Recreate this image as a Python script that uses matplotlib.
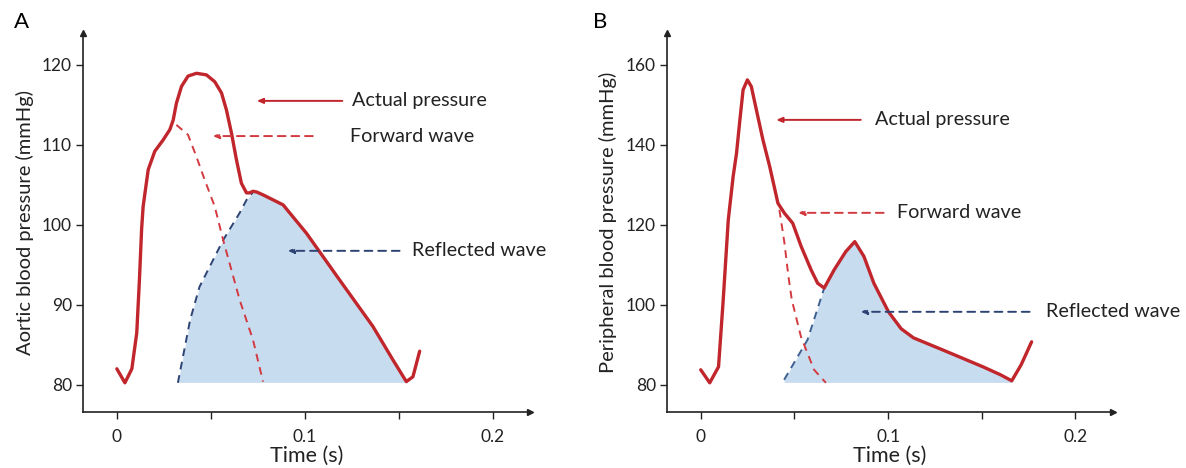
import numpy as np
import matplotlib
matplotlib.use("Agg")
import matplotlib.pyplot as plt

plt.rcParams['font.family'] = ['Lato', 'DejaVu Sans']

# ---- panel A : aortic pressure ----
a_t = [0, 0.0043, 0.008, 0.0106, 0.012, 0.0132, 0.014, 0.0167, 0.0202, 0.0246, 0.0282,
       0.030, 0.0317, 0.0344, 0.0379, 0.0424, 0.0477, 0.0521, 0.0557, 0.0583, 0.061,
       0.0637, 0.0663, 0.069, 0.0707, 0.0725, 0.0745, 0.0778, 0.0885, 0.1009, 0.1186,
       0.1363, 0.147, 0.1541, 0.1576, 0.1612]
a_p = [82, 80.25, 82, 86.5, 93, 99.5, 102.3, 106.9, 109.2, 110.6, 111.9,
       113.1, 115.2, 117.3, 118.6, 118.95, 118.75, 117.9, 116.5, 114.4, 111.5,
       108.1, 105.2, 104.0, 104.0, 104.2, 104.1, 103.75, 102.5, 98.96, 93.1,
       87.3, 83.1, 80.4, 81, 84.2]
a_fwd_t = [0.0317, 0.0379, 0.0424, 0.0468, 0.0521, 0.0566, 0.0654, 0.0725, 0.0778]
a_fwd_p = [112.5, 111.25, 108.5, 105.6, 102.3, 98.1, 90.6, 85.6, 80.4]
a_ref_t = [0.0325, 0.039, 0.044, 0.0566, 0.0654, 0.069, 0.0725]
a_ref_p = [80.25, 88.1, 92.25, 98.1, 101.5, 103.1, 104.1]

# ---- panel B : peripheral pressure ----
b_t = [0, 0.0048, 0.0095, 0.012, 0.0147, 0.0173, 0.0191, 0.0209, 0.0226, 0.0249, 0.027,
       0.0297, 0.0332, 0.0368, 0.0412, 0.0447, 0.0491, 0.0536, 0.0589, 0.0624, 0.0659,
       0.0712, 0.0774, 0.0822, 0.0871, 0.0924, 0.1002, 0.107, 0.1135, 0.129, 0.1506,
       0.160, 0.166, 0.171, 0.1766]
b_p = [83.75, 80.5, 84.5, 101.25, 121.25, 132.1, 137.9, 146.25, 153.75, 156.25, 154.6,
       148.75, 141.25, 134.6, 125.4, 122.9, 120.4, 114.6, 108.75, 105.4, 104.2,
       108.75, 113.3, 115.8, 112.1, 105.4, 98.25, 94, 91.75, 88.75, 84.5,
       82.5, 81, 85, 90.75]
b_fwd_t = [0.042, 0.0447, 0.0468, 0.0486, 0.0535, 0.0605, 0.0668]
b_fwd_p = [123.75, 115.4, 107.1, 101.25, 92, 83.75, 80.5]
b_ref_t = [0.0445, 0.057, 0.0659]
b_ref_p = [81.25, 91.25, 104.2]

RED = '#c0262c'
RED_D = '#d23a40'
FILL = '#c8dcf0'
INK = '#222222'


def panel(ax, t, p, ft, fp, rt, rp, base, t_end, ylim, yticks, ylabel, navy, notes):
    t = np.array(t); p = np.array(p)
    # blue area: reflected wave, then actual curve down to baseline
    m = (t > rt[-1]) & (t <= t_end)
    fx = np.concatenate([rt, t[m]])
    fy = np.concatenate([rp, p[m]])
    ax.fill_between(fx, base, fy, color=FILL, lw=0, zorder=1)
    ax.plot(rt, rp, ls=(0, (4, 3)), color=navy, lw=1.4, zorder=2)
    ax.plot(ft, fp, ls=(0, (4, 3)), color=RED_D, lw=1.4, zorder=2)
    ax.plot(t, p, color=RED, lw=2.4, zorder=3, solid_capstyle='round', solid_joinstyle='round')

    ax.set_xlim(-0.018, 0.22)
    ax.set_ylim(*ylim)
    ax.set_xticks([0, 0.05, 0.1, 0.15, 0.2])
    ax.set_xticklabels(['0', '', '0.1', '', '0.2'])
    ax.set_yticks(yticks)
    ax.tick_params(length=5, width=1, labelsize=12.5, color=INK, labelcolor=INK)
    ax.tick_params(axis='x', pad=7)
    ax.tick_params(axis='y', pad=3)
    ax.spines['top'].set_visible(False)
    ax.spines['right'].set_visible(False)
    for s in ['left', 'bottom']:
        ax.spines[s].set_linewidth(1.2)
        ax.spines[s].set_color(INK)
    ax.plot(1, 0, '>', color=INK, ms=4, transform=ax.transAxes, clip_on=False)
    ax.plot(0, 1, '^', color=INK, ms=4, transform=ax.transAxes, clip_on=False)
    ax.set_xlabel('Time (s)', fontsize=15.5, labelpad=1, color=INK)
    ax.set_ylabel(ylabel, fontsize=14.5, labelpad=6, color=INK)

    for (txt, y, head, tail, tx, col, ls) in notes:
        ax.annotate('', xy=(head, y), xytext=(tail, y),
                    arrowprops=dict(arrowstyle='-|>,head_length=0.35,head_width=0.15',
                                    color=col, lw=1.4, ls=ls, shrinkA=0, shrinkB=0))
        ax.text(tx, y, txt, fontsize=14.2, va='center', ha='left', color=INK)


fig = plt.figure(figsize=(11.86, 4.68), dpi=100)
axA = fig.add_axes([0.070, 0.1197, 0.377, 0.810])
axB = fig.add_axes([0.5624, 0.1197, 0.376, 0.810])

panel(axA, a_t, a_p, a_fwd_t, a_fwd_p, a_ref_t, a_ref_p, 80.3, 0.1541,
      (76.6, 124), [80, 90, 100, 110, 120], 'Aortic blood pressure (mmHg)', '#2d4373',
      [('Actual pressure', 115.5, 0.0745, 0.120, 0.125, RED, '-'),
       ('Forward wave', 111.1, 0.0511, 0.1043, 0.124, RED_D, (0, (4, 3))),
       ('Reflected wave', 96.75, 0.091, 0.1505, 0.157, '#2d4373', (0, (4, 3)))])

panel(axB, b_t, b_p, b_fwd_t, b_fwd_p, b_ref_t, b_ref_p, 80.6, 0.166,
      (73.2, 168), [80, 100, 120, 140, 160], 'Peripheral blood pressure (mmHg)', '#3d5f92',
      [('Actual pressure', 146.25, 0.0403, 0.0854, 0.0928, RED, '-'),
       ('Forward wave', 123, 0.052, 0.0976, 0.105, RED_D, (0, (4, 3))),
       ('Reflected wave', 98.25, 0.0854, 0.1755, 0.1845, '#2d4373', (0, (4, 3)))])

fig.text(0.012, 0.953, 'A', fontsize=16, va='center', ha='left')
fig.text(0.500, 0.953, 'B', fontsize=16, va='center', ha='left')

plt.savefig('out.png', dpi=100)
